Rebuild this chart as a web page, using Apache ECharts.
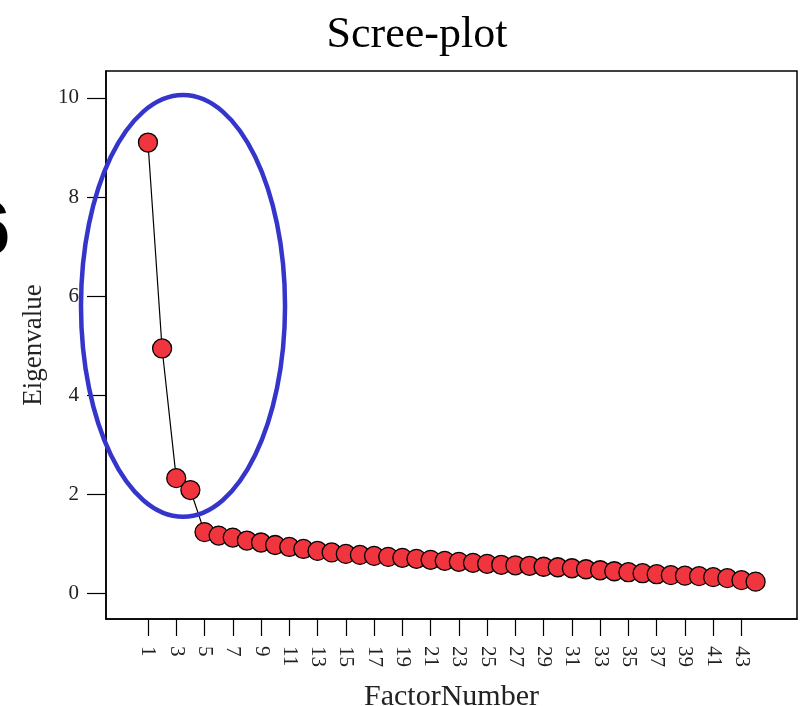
<!DOCTYPE html>
<html>
<head>
<meta charset="utf-8">
<script src="https://cdn.jsdelivr.net/npm/echarts@6/dist/echarts.min.js"></script>
<style>html,body{margin:0;padding:0;background:#fff;width:800px;height:706px;overflow:hidden}#c{width:800px;height:706px}</style>
</head>
<body>
<div id="c"></div>
<script>
const factors = [1,2,3,4,5,6,7,8,9,10,11,12,13,14,15,16,17,18,19,20,21,22,23,24,25,26,27,28,29,30,31,32,33,34,35,36,37,38,39,40,41,42,43,44];
const eigenvalues = [9.10,4.94,2.32,2.08,1.23,1.16,1.12,1.06,1.02,0.97,0.93,0.89,0.85,0.82,0.79,0.77,0.75,0.73,0.71,0.69,0.67,0.65,0.63,0.61,0.59,0.57,0.56,0.55,0.53,0.52,0.50,0.48,0.46,0.44,0.42,0.40,0.38,0.36,0.35,0.34,0.32,0.30,0.26,0.23];
const xTicks = [1,3,5,7,9,11,13,15,17,19,21,23,25,27,29,31,33,35,37,39,41,43];
const yTicks = [0,2,4,6,8,10];
const titleText = 'Scree-plot';
const xName = 'FactorNumber';
const yName = 'Eigenvalue';
// annotation ellipse in data units: centre factor, centre eigenvalue, half-width (factors), half-height (eigenvalue)
const ellipseCenter = [3.48, 5.80];
const ellipseRadii = [7.22, 4.26];

const serif = '"Liberation Serif", "DejaVu Serif", serif';
const chart = echarts.init(document.getElementById('c'), null, {renderer: 'canvas', width: 800, height: 706});
const option = {
  animation: false,
  backgroundColor: '#fff',
  title: {
    text: titleText, left: 412, top: 8, textAlign: 'center',
    textStyle: {fontFamily: serif, fontSize: 44, fontWeight: 'normal', color: '#000'}
  },
  grid: {left: 106, right: 3, top: 71, bottom: 87, show: true, borderColor: '#000', borderWidth: 1.5,
         backgroundColor: 'transparent', containLabel: false, outerBoundsMode: 'none'},
  xAxis: {
    type: 'value', min: -1.97, max: 46.93,
    name: xName, nameLocation: 'middle', nameGap: 63,
    nameTextStyle: {fontFamily: serif, fontSize: 30, color: '#222'},
    axisLine: {show: true, onZero: false, lineStyle: {color: '#000', width: 1.5}},
    axisTick: {show: true, length: 17, customValues: xTicks, lineStyle: {color: '#000', width: 1.2}},
    axisLabel: {customValues: xTicks, rotate: -90, margin: 27, fontFamily: serif, fontSize: 21, color: '#222'},
    splitLine: {show: false}
  },
  yAxis: {
    type: 'value', min: -0.525, max: 10.545,
    name: yName, nameLocation: 'middle', nameGap: 57, nameRotate: 90,
    nameTextStyle: {fontFamily: serif, fontSize: 27, color: '#222'},
    axisLine: {show: true, onZero: false, lineStyle: {color: '#000', width: 1.5}},
    axisTick: {show: true, length: 19, customValues: yTicks, lineStyle: {color: '#000', width: 1.2}},
    axisLabel: {customValues: yTicks, margin: 27, fontFamily: serif, fontSize: 21, color: '#222'},
    splitLine: {show: false}
  },
  series: [{
    type: 'line',
    data: factors.map((f, i) => [f, eigenvalues[i]]),
    symbol: 'circle', symbolSize: 19,
    lineStyle: {color: '#000', width: 1.2},
    itemStyle: {color: '#f0353f', borderColor: '#000', borderWidth: 1.3},
    z: 3
  }]
};
chart.setOption(option);

const c = chart.convertToPixel({gridIndex: 0}, ellipseCenter);
const e = chart.convertToPixel({gridIndex: 0}, [ellipseCenter[0] + ellipseRadii[0], ellipseCenter[1] + ellipseRadii[1]]);
chart.setOption({
  graphic: [
    {type: 'ellipse', shape: {cx: c[0], cy: c[1], rx: Math.abs(e[0] - c[0]), ry: Math.abs(c[1] - e[1])},
     style: {fill: 'none', stroke: '#3535cc', lineWidth: 4.5}, z: 10},
    {type: 'text', left: -32, top: 195, style: {text: '6', font: 'bold 76px "Liberation Sans", Arial, sans-serif', fill: '#000'}, z: 10}
  ]
});
</script>
</body>
</html>
